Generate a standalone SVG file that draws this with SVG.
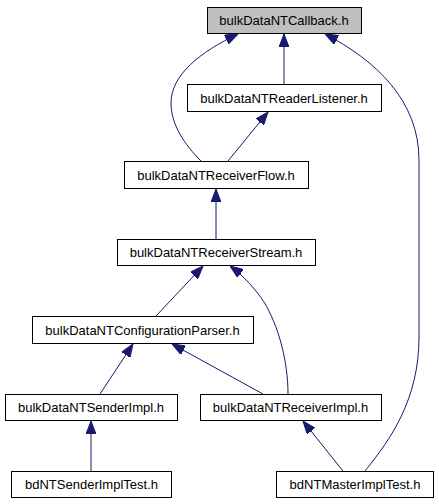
<svg xmlns="http://www.w3.org/2000/svg" width="439" height="504" viewBox="0 0 439 504">
<style>
.n rect{fill:#ffffff;stroke:#000000;stroke-width:1}
.n.g rect{fill:#bfbfbf}
.n text{font-family:"Liberation Sans",Arial,sans-serif;font-size:13px;fill:#000000;text-anchor:middle}
.e path{fill:none;stroke:#191970;stroke-width:1;marker-end:url(#ah)}
</style>
<defs>
<marker id="ah" viewBox="0 0 13 10" refX="13" refY="5" markerWidth="13" markerHeight="10" markerUnits="userSpaceOnUse" orient="auto">
<path d="M0,0 L13,5 L0,10 z" fill="#191970" stroke="#191970"/>
</marker>
</defs>
<g id="edges" class="e">
<path d="M284,84 L284,34"/>
<path d="M201,161 C185,145 171,125 171,103 C171,75 200,52 238,34"/>
<path d="M228,161 L268,112"/>
<path d="M365,471 C390,440 419,400 419,337 L419,160 C419,100 375,60 325,34"/>
<path d="M216,239 L216,189"/>
<path d="M156,316 L203,266"/>
<path d="M288,394 C288,360 278,325 264,302 C256,290 244,276 230,266"/>
<path d="M100,394 L133,344"/>
<path d="M263,394 L172,344"/>
<path d="M91,471 L91,421"/>
<path d="M343,471 L303,421"/>
</g>
<g id="n_callback" class="n g"><rect x="207.5" y="7.5" width="154" height="26"/><text x="284" y="25">bulkDataNTCallback.h</text></g>
<g id="n_reader" class="n"><rect x="187.5" y="84.5" width="194" height="27"/><text x="284" y="102.5">bulkDataNTReaderListener.h</text></g>
<g id="n_flow" class="n"><rect x="124.5" y="161.5" width="184" height="27"/><text x="216" y="179.5">bulkDataNTReceiverFlow.h</text></g>
<g id="n_stream" class="n"><rect x="117.5" y="239.5" width="198" height="26"/><text x="216" y="257">bulkDataNTReceiverStream.h</text></g>
<g id="n_parser" class="n"><rect x="32.5" y="316.5" width="221" height="27"/><text x="142.5" y="334.5">bulkDataNTConfigurationParser.h</text></g>
<g id="n_sender" class="n"><rect x="5.5" y="394.5" width="172" height="26"/><text x="91" y="412">bulkDataNTSenderImpl.h</text></g>
<g id="n_receiver" class="n"><rect x="200.5" y="394.5" width="181" height="26"/><text x="290.5" y="412">bulkDataNTReceiverImpl.h</text></g>
<g id="n_sendertest" class="n"><rect x="11.5" y="471.5" width="160" height="26"/><text x="91.5" y="489">bdNTSenderImplTest.h</text></g>
<g id="n_mastertest" class="n"><rect x="276.5" y="471.5" width="157" height="26"/><text x="355" y="489">bdNTMasterImplTest.h</text></g>
</svg>
